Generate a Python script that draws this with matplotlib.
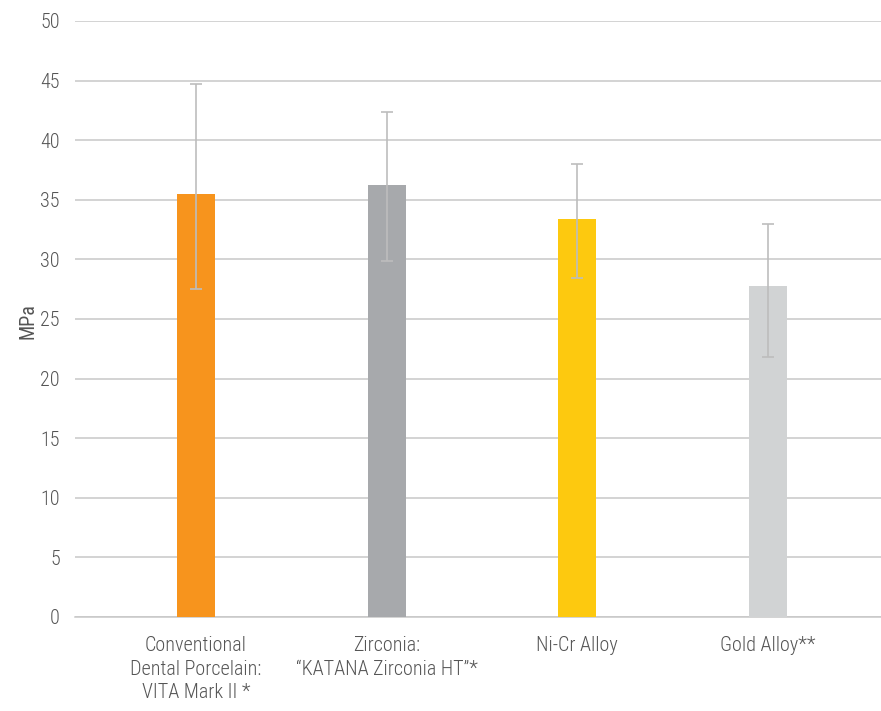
import matplotlib.pyplot as plt
import numpy as np

# 数据
categories = ['Conventional\nDental Porcelain:\nVITA Mark II *',
              'Zirconia:\n\u201cKATANA Zirconia HT\u201d*',
              'Ni-Cr Alloy',
              'Gold Alloy**']
means = [35.5, 36.2, 33.4, 27.8]
err_low = [27.5, 29.9, 28.4, 21.8]
err_high = [44.7, 42.4, 38.0, 33.0]
colors = ['#F7941D', '#A7A9AC', '#FDC90F', '#D1D3D4']
y_ticks = [0, 5, 10, 15, 20, 25, 30, 35, 40, 45, 50]

plt.rcParams['font.family'] = ['Roboto Condensed', 'DejaVu Sans']
plt.rcParams['font.weight'] = 'light'

fig = plt.figure(figsize=(8.81, 7.11), dpi=100)
ax = fig.add_axes([75 / 881, 94 / 711, 806 / 881, 596 / 711])

x = np.arange(len(categories))
ax.bar(x, means, width=0.2, color=colors, zorder=3)

yerr = [np.array(means) - np.array(err_low), np.array(err_high) - np.array(means)]
ax.errorbar(x, means, yerr=yerr, fmt='none', ecolor='#BDBDBD',
            elinewidth=1.2, capsize=4, capthick=1.2, zorder=4)

ax.set_xlim(-0.635, 3.593)
ax.set_ylim(0, 50)
ax.set_yticks(y_ticks)
ax.grid(axis='y', color='#C8C8C8', linewidth=1.1, zorder=0)

for s in ['top', 'right', 'left']:
    ax.spines[s].set_visible(False)
ax.spines['bottom'].set_color('#C8C8C8')
ax.spines['bottom'].set_linewidth(1.1)

ax.set_xticks(x)
ax.set_xticklabels(categories, linespacing=1.3)
ax.tick_params(axis='both', length=0, colors='#555555', labelsize=14.5)
ax.tick_params(axis='x', pad=14)
ax.tick_params(axis='y', pad=11)

ax.set_ylabel('MPa', fontsize=14.5, color='#555555')
ax.yaxis.set_label_coords(-0.047, 0.496)

plt.savefig('out.png', dpi=100)
